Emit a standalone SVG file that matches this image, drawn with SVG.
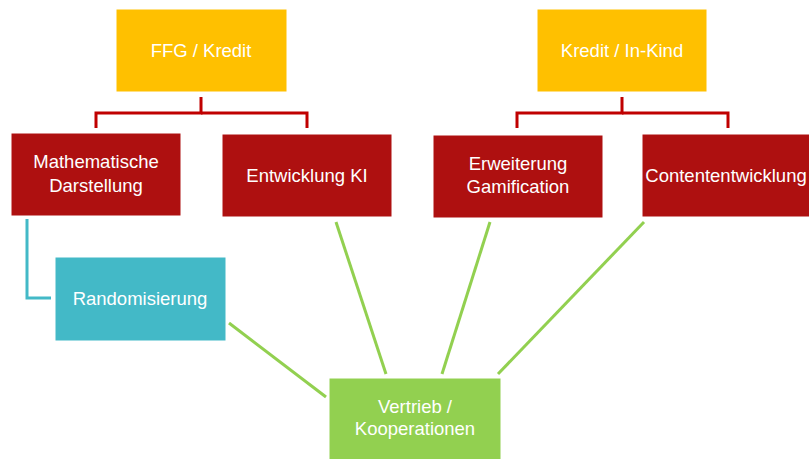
<svg xmlns="http://www.w3.org/2000/svg" width="809" height="459" viewBox="0 0 809 459">
<style>
.box{stroke:#ffffff;stroke-width:1}
.y{fill:#FFC000}
.r{fill:#AE1010}
.t{fill:#43B9C7}
.g{fill:#92D050}
text{font-family:"Liberation Sans",Arial,sans-serif;font-size:18.5px;fill:#ffffff;text-anchor:middle}
.cr{stroke:#C00000;stroke-width:3;fill:none}
.ct{stroke:#43B9C7;stroke-width:3;fill:none}
.cg{stroke:#92D050;stroke-width:3;fill:none}
</style>
<rect width="809" height="459" fill="#ffffff"/>
<g id="connectors">
<polyline class="cr" points="201,97 201,113 96,113 96,128"/>
<polyline class="cr" points="201,113 307,113 307,128"/>
<polyline class="cr" points="622,97 622,113 517,113 517,128"/>
<polyline class="cr" points="622,113 728,113 728,128"/>
<polyline class="ct" points="27,219 27,298 51,298"/>
<line class="cg" x1="229" y1="323" x2="326" y2="397"/>
<line class="cg" x1="336" y1="222" x2="386" y2="374"/>
<line class="cg" x1="490" y1="222" x2="442" y2="374"/>
<line class="cg" x1="644" y1="222" x2="498" y2="374"/>
</g>
<g id="ffg"><rect class="box y" x="116" y="9" width="171" height="83"/><text x="201" y="57">FFG / Kredit</text></g>
<g id="kredit"><rect class="box y" x="537" y="9" width="170" height="83"/><text x="622" y="57">Kredit / In-Kind</text></g>
<g id="math"><rect class="box r" x="11" y="133" width="170" height="83"/><text x="96" y="168">Mathematische</text><text x="96" y="192">Darstellung</text></g>
<g id="ki"><rect class="box r" x="222" y="134" width="170" height="83"/><text x="307" y="182">Entwicklung KI</text></g>
<g id="gami"><rect class="box r" x="433" y="135" width="170" height="83"/><text x="518" y="170">Erweiterung</text><text x="518" y="193">Gamification</text></g>
<g id="content"><rect class="box r" x="642" y="134" width="172" height="83"/><text x="726" y="182">Contententwicklung</text></g>
<g id="random"><rect class="box t" x="55" y="257" width="171" height="84"/><text x="140" y="305">Randomisierung</text></g>
<g id="vertrieb"><rect class="box g" x="329" y="378" width="172" height="84"/><text x="415" y="413">Vertrieb /</text><text x="415" y="435">Kooperationen</text></g>
</svg>
